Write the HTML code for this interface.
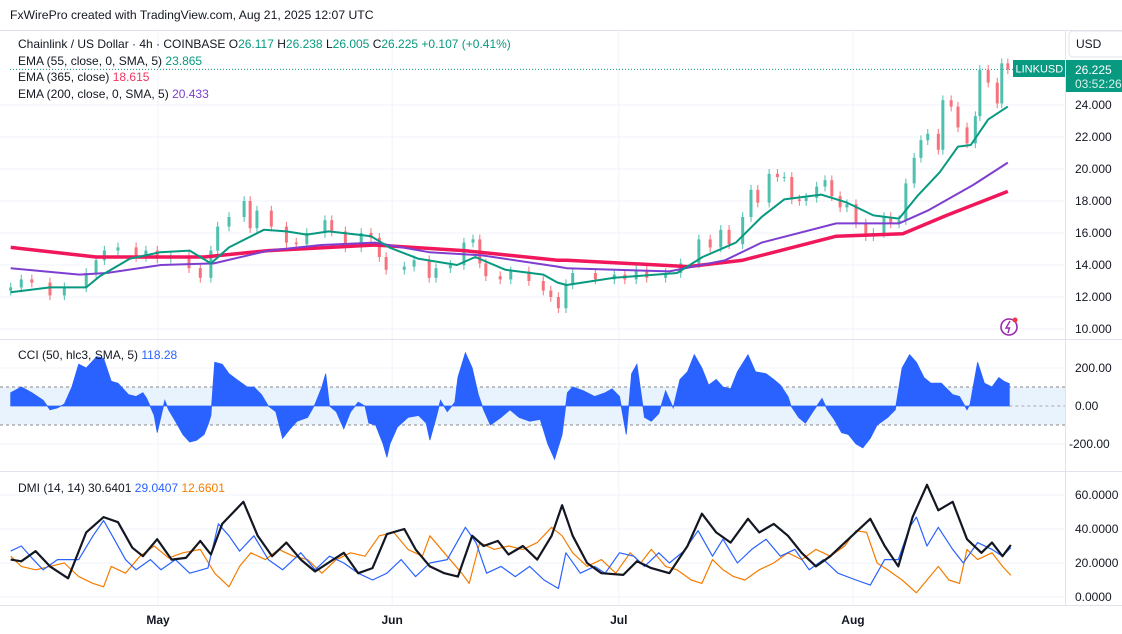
<!DOCTYPE html>
<html><head><meta charset="utf-8"><style>
html,body{margin:0;padding:0;background:#fff;width:1122px;height:634px;overflow:hidden}
svg{display:block;font-family:"Liberation Sans",sans-serif}
</style></head><body>
<svg id="chart" width="1122" height="634" viewBox="0 0 1122 634" xmlns="http://www.w3.org/2000/svg">
<rect x="0" y="0" width="1122" height="634" fill="#fff"/>
<g id="grid"></g>
<g id="frame">
<line x1="0" y1="30.5" x2="1122" y2="30.5" stroke="#e0e3eb"/>
<line x1="0" y1="339.5" x2="1122" y2="339.5" stroke="#e0e3eb"/>
<line x1="0" y1="471.5" x2="1122" y2="471.5" stroke="#e0e3eb"/>
<line x1="0" y1="605.5" x2="1122" y2="605.5" stroke="#e0e3eb"/>
<line x1="1065.5" y1="30" x2="1065.5" y2="606" stroke="#e0e3eb"/>
</g>
<text x="10" y="19" font-size="12.2" fill="#131722">FxWirePro created with TradingView.com, Aug 21, 2025 12:07 UTC</text>
<g id="cci-band"></g>
<g id="price"></g>
<g id="cci"></g>
<g id="dmi"></g>
<g id="axes"></g>
<g font-size="12">
<text x="18" y="48" fill="#131722">Chainlink / US Dollar · 4h · COINBASE <tspan fill="#131722">O</tspan><tspan fill="#089981">26.117</tspan> <tspan fill="#131722">H</tspan><tspan fill="#089981">26.238</tspan> <tspan fill="#131722">L</tspan><tspan fill="#089981">26.005</tspan> <tspan fill="#131722">C</tspan><tspan fill="#089981">26.225</tspan> <tspan fill="#089981">+0.107 (+0.41%)</tspan></text>
<text x="18" y="65" fill="#131722">EMA (55, close, 0, SMA, 5) <tspan fill="#089981">23.865</tspan></text>
<text x="18" y="81" fill="#131722">EMA (365, close) <tspan fill="#f23665">18.615</tspan></text>
<text x="18" y="98" fill="#131722">EMA (200, close, 0, SMA, 5) <tspan fill="#7e3fd0">20.433</tspan></text>
<text x="18" y="359" fill="#131722">CCI (50, hlc3, SMA, 5) <tspan fill="#2962ff">118.28</tspan></text>
<text x="18" y="492" fill="#131722">DMI (14, 14) <tspan fill="#131722">30.6401</tspan> <tspan fill="#2962ff">29.0407</tspan> <tspan fill="#f57c00">12.6601</tspan></text>
</g>
<g>
<rect x="1069" y="31" width="56" height="26" rx="4" fill="#fff" stroke="#e0e3eb"/>
<text x="1076" y="48" font-size="12" fill="#131722">USD</text>
</g>
<g>
<rect x="1013" y="60" width="52" height="17" fill="#089981"/>
<text x="1015.5" y="72.5" font-size="11" fill="#fff">LINKUSD</text>
</g>
<g>
<rect x="1066" y="60" width="56" height="32" fill="#089981"/>
<text x="1075" y="74" font-size="12" fill="#fff">26.225</text>
<text x="1075" y="88" font-size="12" fill="#d7f2ec">03:52:26</text>
</g>
<g>
<circle cx="1009" cy="327" r="8" fill="none" stroke="#9c27b0" stroke-width="1.6"/>
<path d="M1010 321 L1006 328 L1009.5 328 L1008 333" fill="none" stroke="#9c27b0" stroke-width="1.4"/>
<circle cx="1015" cy="320" r="2.5" fill="#f23645"/>
</g>
</svg>
<script>
// ---- data ----
const priceDays=[-19.5,-18.1,-16.7,-14.3,-12.4,-9.5,-8.2,-7.1,-5.3,-2.9,-1.6,-0.1,1.7,4.1,5.6,7.0,7.9,9.4,11.4,12.2,13.1,15.0,17.0,18.3,19.7,22.1,23.0,24.8,26.9,28.2,29.3,30.2,32.6,33.9,35.9,36.8,38.7,40.5,41.7,42.6,43.4,45.3,46.7,49.1,51.0,52.0,53.0,54.0,54.9,57.9,60.4,61.8,63.3,64.7,67.2,69.2,71.6,73.1,74.5,75.6,77.4,78.5,79.4,80.9,82.0,82.9,83.9,84.9,85.8,87.2,88.3,89.2,90.3,91.2,92.4,93.7,94.7,96.1,97.0,98.1,99.0,100.1,101.0,101.9,103.3,103.9,105.0,105.9,107.1,108.2,108.8,109.9,111.1,111.7,112.5];
const priceClose=[12.6,13.1,12.9,12.1,12.6,13.5,14.3,14.9,15.1,14.5,14.9,14.4,14.6,13.8,13.2,14.9,16.4,17.0,18.0,16.3,17.4,16.4,15.4,15.3,16.0,16.8,16.1,15.1,16.0,15.7,14.5,13.7,13.9,14.3,13.2,13.8,14.0,15.4,15.6,14.1,13.3,13.1,13.6,13.0,12.4,12.0,11.3,12.8,13.5,13.1,13.4,13.1,13.7,13.2,13.5,14.1,15.6,15.1,16.2,15.3,17.0,18.7,17.9,19.7,19.5,19.5,18.1,18.0,18.2,18.9,19.3,18.3,17.6,17.8,16.6,15.8,16.0,17.0,16.6,16.8,19.1,20.7,21.8,22.2,21.2,24.3,23.9,22.6,21.6,23.3,26.2,25.4,24.1,26.6,26.225];
const ema55Days=[-19.5,-14.3,-9.5,-7.7,-3.7,0.3,4.2,7.0,9.4,14.0,17.0,19.7,22.6,26.4,28.2,30.6,34.4,39.6,42.0,46.0,51.0,52.9,54.1,60.4,68.7,72.1,76.5,79.9,82.9,87.8,91.2,94.7,98.1,100.5,103.5,105.9,107.6,109.9,112.5];
const ema55=[12.3,12.6,12.6,13.3,14.4,14.8,14.9,14.1,15.1,16.2,16.1,15.9,16.1,15.9,15.8,15.1,14.4,14.0,14.5,13.7,13.4,12.9,12.75,13.2,13.5,14.5,15.4,17.0,18.1,18.4,17.9,17.1,16.9,18.3,19.8,21.4,21.5,23.1,23.9];
const ema200Days=[-19.5,-10.4,-6.8,0.4,7.4,14.6,21.6,28.7,35.9,42.9,52.9,54.1,67.7,75.1,79.9,89.8,98.1,101.9,107.9,112.5];
const ema200=[13.8,13.4,13.5,14.0,14.1,14.9,15.25,15.4,14.8,14.6,13.9,13.8,13.6,14.3,15.4,16.6,16.6,17.4,19.0,20.4];
const ema365Days=[-19.5,-8.2,6.1,14.6,28.7,40.5,52.9,54.1,70.2,77.4,89.8,98.6,104.4,112.5];
const ema365=[15.1,14.5,14.5,14.9,15.25,14.9,14.3,14.3,13.9,14.3,15.8,15.95,17.1,18.6];
const cciDays=[-19.5,-18.1,-16.7,-15.2,-14.3,-13.3,-12.4,-11.4,-10.5,-9.5,-8.1,-7.2,-6.2,-5.3,-3.9,-2.9,-2.0,-1.5,-0.5,-0.1,0.9,1.4,2.3,3.3,4.2,5.1,6.1,6.6,7.0,7.5,8.5,9.4,10.4,11.8,12.7,13.7,14.6,15.6,16.5,17.5,18.4,19.8,20.8,21.7,22.2,22.7,23.6,24.6,25.5,26.5,27.4,27.9,28.8,29.8,30.3,30.7,31.7,33.1,34.5,35.5,36.0,36.9,37.4,38.3,39.3,39.7,40.7,41.6,42.4,43.1,44.0,45.4,46.6,47.8,49.2,50.6,51.6,52.5,53.5,54.2,54.9,56.3,57.8,59.2,60.1,61.1,62.0,62.7,63.4,64.4,65.3,66.3,67.2,68.2,69.1,70.1,71.0,72.0,72.9,73.9,74.8,75.8,76.7,78.1,79.1,80.5,81.5,82.4,83.4,83.8,84.8,85.7,86.7,87.9,88.6,89.5,90.5,91.4,92.4,93.3,94.3,95.2,96.6,97.6,98.5,99.5,100.4,101.4,102.3,103.7,105.2,106.1,107.1,107.5,108.5,109.4,110.4,111.3,112.0,112.7];
const cciValues=[70,100,70,30,-20,-10,10,100,220,200,260,250,130,120,60,50,70,40,-50,-140,30,-20,-80,-150,-190,-180,-150,-100,-50,230,220,170,140,100,100,60,0,-30,-170,-120,-80,-60,10,100,170,0,-30,-120,-30,20,0,-90,-100,-200,-270,-200,-110,-60,-50,-90,-180,-50,30,-30,20,150,280,200,60,-20,-100,-60,-20,-60,-80,-70,-200,-280,-150,70,100,80,50,70,90,50,-150,170,220,-60,-80,-40,80,-10,140,180,270,200,110,140,100,90,180,270,180,170,140,110,50,0,-60,-90,-30,40,-20,-70,-140,-150,-200,-220,-170,-100,-60,-20,200,270,230,150,120,120,60,50,-20,10,230,120,100,150,130,118];
const adxDays=[-19.5,-18.1,-16.2,-14.3,-11.9,-9.5,-7.2,-5.3,-3.4,-2.0,-0.1,1.8,3.7,5.6,7.0,8.5,11.3,13.2,15.1,17.0,18.9,20.8,23.2,24.6,26.5,28.4,30.3,32.6,34.1,36.0,37.9,39.7,41.6,43.1,45.0,46.4,48.3,50.2,52.1,53.5,54.9,56.8,58.7,61.6,63.4,65.3,67.7,70.1,72.0,73.9,75.8,78.1,79.6,81.5,83.4,85.2,87.1,89.0,91.4,94.3,96.2,98.0,99.9,101.8,103.3,105.2,107.1,109.0,110.4,111.8,112.9];
const adxValues=[22,21,27,18,11,38,47,44,29,24,34,22,23,33,25,43,56,36,24,32,22,15,22,26,14,17,37,40,28,18,14,12,36,30,33,25,30,22,36,54,36,20,14,13,21,17,14,30,49,38,32,46,38,43,36,26,18,24,34,46,30,18,47,66,51,56,34,26,32,24,30.6];
const plusDiDays=[-19.5,-18.1,-16.7,-15.2,-13.3,-10.5,-8.6,-7.2,-5.8,-4.3,-2.9,-1.0,0.4,2.3,4.2,6.6,8.0,9.4,10.8,12.7,14.6,16.5,18.9,20.8,22.7,24.6,26.5,28.4,30.3,32.2,34.1,36.0,38.3,40.7,42.1,43.5,45.4,47.3,49.2,51.1,53.0,54.0,55.9,57.8,59.2,61.1,63.0,64.4,66.3,67.7,69.6,71.5,73.4,74.8,76.7,78.6,80.5,82.4,84.3,86.2,88.1,90.0,92.4,94.3,96.2,98.0,99.5,100.4,101.8,103.3,105.2,106.6,108.5,110.4,111.8,112.9];
const plusDiValues=[27,30,23,16,22,22,36,45,34,22,16,22,16,22,14,17,43,36,27,36,22,16,26,16,24,20,14,10,14,22,12,20,22,41,32,14,18,12,18,10,5,26,14,18,14,26,24,18,26,20,27,39,24,34,20,28,34,24,28,16,22,14,10,7,22,22,41,47,30,41,28,20,32,28,24,29];
const minusDiDays=[-19.5,-18.1,-16.2,-14.3,-12.4,-10.5,-8.6,-7.2,-6.2,-4.3,-2.4,-0.5,1.4,3.3,5.6,7.5,9.4,10.8,12.3,14.2,16.0,17.9,19.8,21.7,23.6,25.5,27.4,29.3,31.2,33.1,35.0,36.0,37.9,40.2,41.2,42.6,44.5,46.4,48.3,50.2,52.1,53.5,54.9,56.8,58.7,60.6,62.5,63.9,65.3,67.2,68.7,70.6,72.0,73.4,74.8,76.2,77.7,79.6,81.5,83.4,85.2,87.1,89.0,90.9,92.4,93.8,95.2,96.6,98.5,100.4,101.8,103.3,104.7,106.1,107.1,108.5,110.4,111.8,112.9];
const minusDiValues=[24,18,16,18,20,12,8,6,18,14,24,30,23,26,28,14,6,18,26,22,28,24,22,14,22,26,24,36,38,28,24,36,26,14,8,32,28,30,28,32,41,36,26,18,22,14,26,20,28,18,16,10,8,22,16,12,10,16,20,26,22,28,24,30,39,38,20,16,10,2.5,10,18,10,8,28,22,26,18,12.7];
const priceTicks=[10,12,14,16,18,20,22,24];
const cciTicks=[200,0,-200];
const dmiTicks=[0,20,40,60];
const monthLabels=["May","Jun","Jul","Aug"];
const monthDays=[0,31,61,92];

// ---- scales ----
const xS=d=>158+d*7.554;
const yP=v=>105+(24-v)*16;
const yC=v=>406-v*0.19;
const yD=v=>597-v*1.7;
const NS="http://www.w3.org/2000/svg";
function mk(tag,attrs,parent){const e=document.createElementNS(NS,tag);for(const k in attrs)e.setAttribute(k,attrs[k]);parent.appendChild(e);return e;}
const grid=document.getElementById('grid'),axes=document.getElementById('axes');

priceTicks.forEach(v=>{mk('line',{x1:0,x2:1065,y1:yP(v),y2:yP(v),stroke:'#f0f3fa'},grid);
 const t=mk('text',{x:1075,y:yP(v)+4,'font-size':12,fill:'#131722'},axes);t.textContent=v.toFixed(3);
 
 });
cciTicks.forEach(v=>{mk('line',{x1:0,x2:1065,y1:yC(v),y2:yC(v),stroke:'#f0f3fa'},grid);
 const t=mk('text',{x:v<0?1069:1075,y:yC(v)+4,'font-size':12,fill:'#131722'},axes);t.textContent=v.toFixed(2);
 
 });
dmiTicks.forEach(v=>{mk('line',{x1:0,x2:1065,y1:yD(v),y2:yD(v),stroke:'#f0f3fa'},grid);
 const t=mk('text',{x:1075,y:yD(v)+4,'font-size':12,fill:'#131722'},axes);t.textContent=v.toFixed(4);
 
 });
monthDays.forEach((d,i)=>{mk('line',{x1:xS(d),x2:xS(d),y1:31,y2:605,stroke:'#f0f3fa'},grid);
 const t=mk('text',{x:xS(d),y:624,'font-size':12,fill:'#131722','text-anchor':'middle','font-weight':'bold'},axes);t.textContent=monthLabels[i];
 
 });

const pg=document.getElementById('price');
mk('line',{x1:10,x2:1013,y1:yP(26.225),y2:yP(26.225),stroke:'#089981','stroke-dasharray':'1 2'},pg);
priceClose.forEach((c,i)=>{
 const o=i?priceClose[i-1]:c-0.2; const up=c>=o; const col=up?'#4fbfae':'#f7727c';
 const x=xS(priceDays[i]);
 const hi=Math.max(o,c)+0.3, lo=Math.min(o,c)-0.3;
 const w=mk('line',{x1:x,x2:x,y1:yP(hi),y2:yP(lo),stroke:col,'stroke-width':1},pg);
 
 
 const b=mk('rect',{x:x-1.5,y:yP(Math.max(o,c)),width:3,height:Math.max(1,Math.abs(yP(o)-yP(c))),fill:col},pg);
 
 
});
function line(days,vals,ys,col,w,g,name){
 const d=days.map((t,i)=>(i?'L':'M')+xS(t).toFixed(1)+' '+ys(vals[i]).toFixed(1)).join(' ');
 const p=mk('path',{d:d,fill:'none',stroke:col,'stroke-width':w,'stroke-linejoin':'round'},g);
 
 
}
line(ema365Days,ema365,yP,'#f0185a',3.5,pg,'ema365-line');
line(ema200Days,ema200,yP,'#7e3fd0',2,pg,'ema200-line');
line(ema55Days,ema55,yP,'#089981',2,pg,'ema55-line');

const band=document.getElementById('cci-band');
mk('rect',{x:0,y:yC(100),width:1065,height:yC(-100)-yC(100),fill:'#e9f3fd'},band);
mk('line',{x1:0,x2:1065,y1:yC(100),y2:yC(100),stroke:'#888','stroke-dasharray':'3 3'},band);
mk('line',{x1:0,x2:1065,y1:yC(-100),y2:yC(-100),stroke:'#888','stroke-dasharray':'3 3'},band);
mk('line',{x1:xS(cciDays[cciDays.length-1]),x2:1065,y1:yC(0),y2:yC(0),stroke:'#aaa','stroke-dasharray':'3 3'},band);
const cg=document.getElementById('cci');
let cd='M'+xS(cciDays[0]).toFixed(1)+' '+yC(0);
cciDays.forEach((t,i)=>{cd+=' L'+xS(t).toFixed(1)+' '+yC(cciValues[i]).toFixed(1);});
cd+=' L'+xS(cciDays[cciDays.length-1]).toFixed(1)+' '+yC(0)+' Z';
const ca=mk('path',{d:cd,fill:'#2962ff',stroke:'#2962ff','stroke-width':0.8},cg);



const dg=document.getElementById('dmi');
line(minusDiDays,minusDiValues,yD,'#f57c00',1.2,dg,'minus-di-line');
line(plusDiDays,plusDiValues,yD,'#2962ff',1.2,dg,'plus-di-line');
line(adxDays,adxValues,yD,'#131722',2.2,dg,'adx-line');
</script>
</body></html>
